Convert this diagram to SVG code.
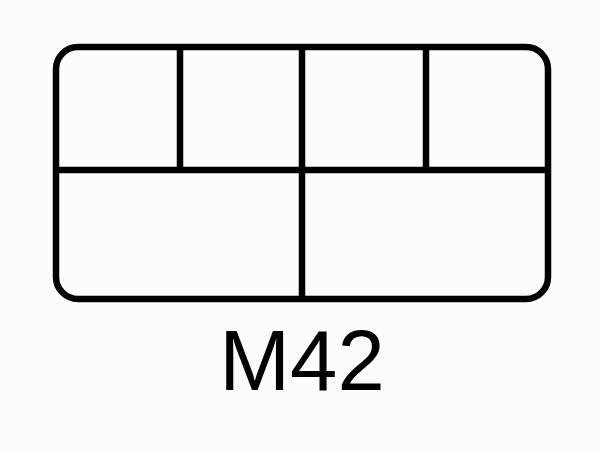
<svg xmlns="http://www.w3.org/2000/svg" width="600" height="450" viewBox="0 0 600 450">
<style>
.ln{fill:none;stroke:#000;stroke-width:6.5;stroke-linecap:butt}
.lbl{font-family:"Liberation Sans",Arial,sans-serif;font-size:85px;fill:#000}
</style>
<rect width="600" height="450" fill="#fcfcfc"/>
<g id="box">
<rect class="ln" x="56" y="47" width="492" height="252" rx="22" ry="22"/>
</g>
<g id="dividers">
<line class="ln" x1="56" y1="170" x2="548" y2="170"/>
<line class="ln" x1="180" y1="47" x2="180" y2="170"/>
<line class="ln" x1="302" y1="47" x2="302" y2="299"/>
<line class="ln" x1="426" y1="47" x2="426" y2="170"/>
</g>
<g id="label">
<text class="lbl" x="302" y="390" text-anchor="middle">M42</text>
</g>
</svg>
